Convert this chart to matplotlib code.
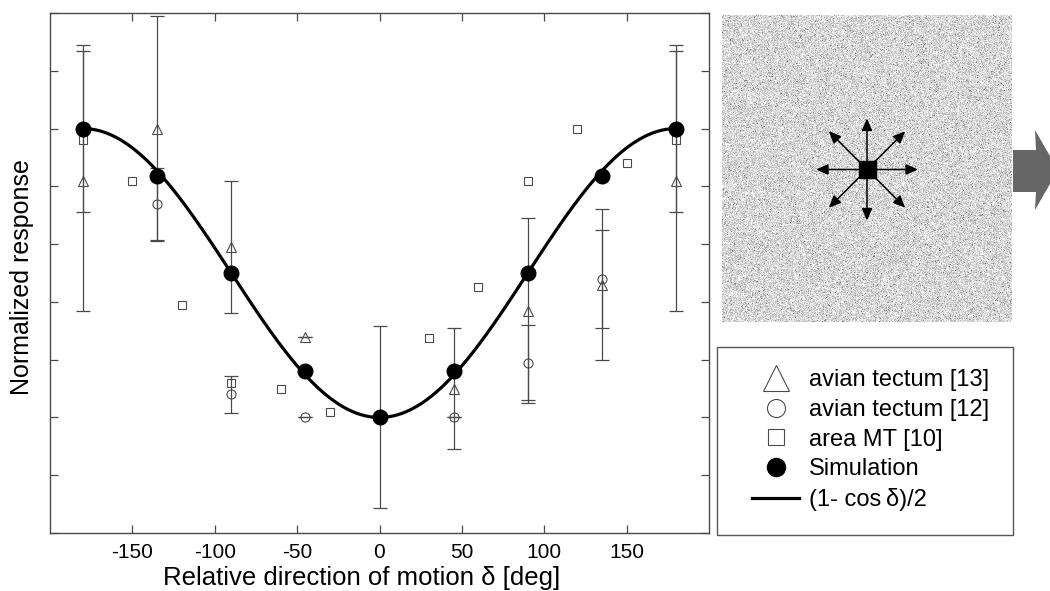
import numpy as np
import matplotlib
matplotlib.use('Agg')
import matplotlib.pyplot as plt
from matplotlib.lines import Line2D
from matplotlib.patches import Rectangle, Polygon

plt.rcParams['font.family'] = ['Liberation Sans', 'DejaVu Sans']
plt.rcParams['axes.unicode_minus'] = False

# ---------------- data ----------------
# avian tectum [13] (open triangles)
tri_x = [-180, -135, -90, -45, 45, 90, 135, 180]
tri_y = [0.82, 1.00, 0.59, 0.28, 0.10, 0.37, 0.46, 0.82]
tri_err = [0.45, 0.39, 0.23, 0.0, 0.21, 0.32, 0.26, 0.45]

# avian tectum [12] (open circles)
circ_x = [-135, -90, -45, 45, 90, 135]
circ_y = [0.74, 0.08, 0.00, 0.00, 0.19, 0.48]
circ_err = [0.125, 0.065, 0.0, 0.0, 0.13, 0.17]

# area MT [10] (open squares)
sq_x = [-180, -150, -120, -90, -60, -30, 30, 60, 90, 120, 150, 180]
sq_y = [0.96, 0.82, 0.39, 0.12, 0.10, 0.02, 0.275, 0.45, 0.82, 1.00, 0.88, 0.96]

# Simulation (filled circles)
sim_x = [-180, -135, -90, -45, 0, 45, 90, 135, 180]
sim_y = [1.00, 0.835, 0.50, 0.16, 0.00, 0.16, 0.50, 0.835, 1.00]
simerr_x = [-180, 0, 180]
simerr_y = [1.00, 0.00, 1.00]
simerr = [0.29, 0.315, 0.29]

x_ticks = [-150, -100, -50, 0, 50, 100, 150]
y_ticks = [-0.4, -0.2, 0.0, 0.2, 0.4, 0.6, 0.8, 1.0, 1.2, 1.4]
motion_dirs = [0, 45, 90, 135, 180, 225, 270, 315]

legend_labels = ['avian tectum [13]', 'avian tectum [12]', 'area MT [10]',
                 'Simulation', '(1- cos\u2009\u03b4)/2']

# ---------------- figure ----------------
W, H = 1050, 591
fig = plt.figure(figsize=(W / 100, H / 100), dpi=100)

def fbox(x0, y0, x1, y1):
    """pixel box (top-left origin) -> figure fraction rect"""
    return [x0 / W, 1 - y1 / H, (x1 - x0) / W, (y1 - y0) / H]

def fp(x, y):
    return (x / W, 1 - y / H)

ax = fig.add_axes(fbox(50, 13, 709, 533))

ecol = '#4a4a4a'
ekw = dict(fmt='none', ecolor=ecol, elinewidth=0.9, capsize=4.7, capthick=0.9, zorder=2)
ax.errorbar(tri_x, tri_y, yerr=tri_err, **ekw)
ax.errorbar(circ_x, circ_y, yerr=circ_err, **ekw)
ax.errorbar(simerr_x, simerr_y, yerr=simerr, **ekw)

mkw = dict(linestyle='none', markerfacecolor='none', markeredgecolor=ecol,
           markeredgewidth=0.8, zorder=3)
ax.plot(tri_x, tri_y, marker='^', markersize=7.5, **mkw)
ax.plot(circ_x, circ_y, marker='o', markersize=6.5, **mkw)
ax.plot(sq_x, sq_y, marker='s', markersize=5.2, **mkw)

delta = np.linspace(-180, 180, 721)
curve = (1 - np.cos(np.radians(delta))) / 2
ax.plot(delta, curve, color='black', linewidth=2.3, zorder=4)
ax.plot(sim_x, sim_y, linestyle='none', marker='o', markersize=10.5,
        color='black', zorder=5)

ax.set_xlim(-200, 200)
ax.set_ylim(-0.4, 1.4)
ax.set_xticks(x_ticks)
ax.set_xticklabels([str(v) for v in x_ticks])
ax.set_yticks(y_ticks)
ax.set_yticklabels([])
ax.tick_params(direction='in', length=6, width=0.9, color=ecol,
               top=True, right=True, labelsize=15, pad=7)
for s in ax.spines.values():
    s.set_color(ecol)
    s.set_linewidth(1.0)

ax.set_xlabel('Relative direction of motion \u03b4 [deg]', fontsize=18.5)
ax.set_ylabel('Normalized response', fontsize=18)
ax.xaxis.set_label_coords((362 - 50) / 659, (533 - 578) / 520)
ax.xaxis.label.set_va('center')
ax.yaxis.set_label_coords((22 - 50) / 659, (533 - 277) / 520)
ax.yaxis.label.set_va('center')

# ---------------- stimulus picture ----------------
axi = fig.add_axes(fbox(722, 15, 1012, 322))
rng = np.random.default_rng(3)
nh, nw = 307, 290
noise = np.clip(rng.normal(0.85, 0.09, size=(nh, nw)), 0, 1)
dark = rng.random((nh, nw)) < 0.03
noise[dark] = rng.uniform(0.45, 0.7, size=dark.sum())
axi.imshow(noise, cmap='gray', vmin=0, vmax=1, aspect='auto',
           interpolation='bilinear', extent=(0, nw, 0, nh))
cx, cy = nw / 2, nh / 2 - 1
for ang in motion_dirs:
    r = np.radians(ang)
    L = 51 if ang % 90 == 0 else 54
    axi.annotate('', xy=(cx + L * np.cos(r), cy + L * np.sin(r)), xytext=(cx, cy),
                 arrowprops=dict(arrowstyle='-|>,head_length=0.45,head_width=0.2',
                                 color='black', lw=1.1,
                                 mutation_scale=16, shrinkA=0, shrinkB=0))
axi.add_patch(Rectangle((cx - 8.5, cy - 8.5), 17, 17, color='black', zorder=5))
axi.set_xlim(0, nw)
axi.set_ylim(0, nh)
axi.axis('off')

# ---------------- grey block arrow (cut at the right edge) ----------------
arrow_pts = [fp(1013, 150), fp(1036, 150), fp(1035, 130), fp(1058, 170),
             fp(1035, 210), fp(1036, 192), fp(1013, 192)]
fig.patches.append(Polygon(arrow_pts, closed=True, transform=fig.transFigure,
                           facecolor='#666666', edgecolor='none', figure=fig))

# ---------------- legend ----------------
fig.patches.append(Rectangle(fp(717, 535), (1013 - 717) / W, (535 - 347) / H,
                             transform=fig.transFigure, facecolor='white',
                             edgecolor='#555555', linewidth=1.0, figure=fig))
lk = dict(linestyle='none', markerfacecolor='none', markeredgecolor=ecol,
          markeredgewidth=0.8)
handles = [
    Line2D([], [], marker='^', markersize=19, **lk),
    Line2D([], [], marker='o', markersize=13, **lk),
    Line2D([], [], marker='s', markersize=11, **lk),
    Line2D([], [], linestyle='none', marker='o', markersize=13, color='black'),
    Line2D([], [], color='black', linewidth=2.3),
]
fig.legend(handles, legend_labels, loc='upper left',
           bbox_to_anchor=fp(752, 369), bbox_transform=fig.transFigure,
           frameon=False, fontsize=17, handlelength=2.0, handletextpad=0.4,
           labelspacing=0.33, borderpad=0, borderaxespad=0)

fig.savefig('out.png', dpi=100)
